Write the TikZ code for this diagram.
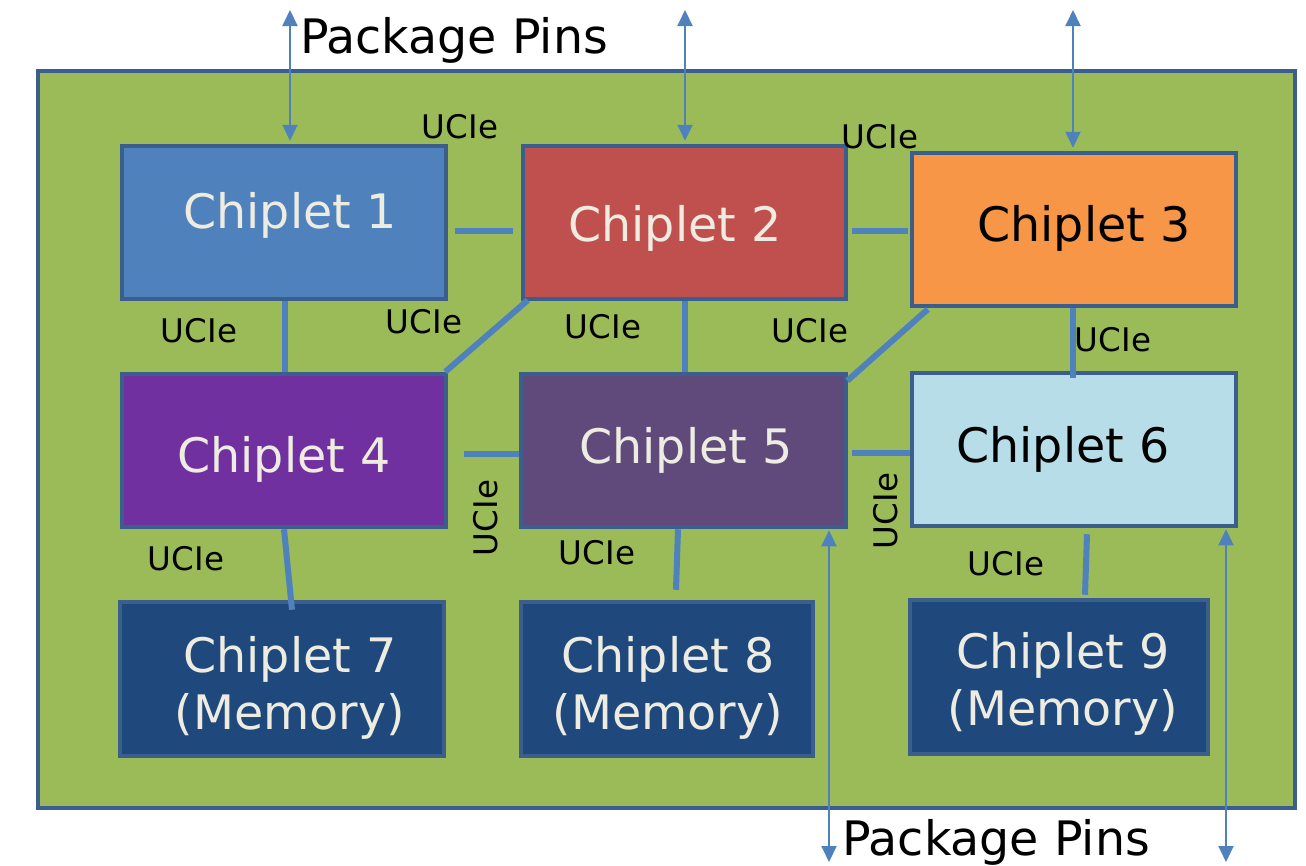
\documentclass[tikz,border=0pt]{standalone}
\usepackage{fontspec}
\setmainfont{DejaVu Sans}
\usetikzlibrary{arrows.meta,calc}

\definecolor{board}{HTML}{9BBB59}
\definecolor{rim}{HTML}{3B5E8C}
\definecolor{link}{HTML}{4F81BD}
\definecolor{chipA}{HTML}{4F81BD}
\definecolor{chipB}{HTML}{C0504D}
\definecolor{chipC}{HTML}{F79646}
\definecolor{chipD}{HTML}{7030A0}
\definecolor{chipE}{HTML}{604A7B}
\definecolor{chipF}{HTML}{B7DEE8}
\definecolor{chipM}{HTML}{1F497D}
\definecolor{paper}{HTML}{EEECE1}

\begin{document}
\begin{tikzpicture}[x=1pt,y=-1pt,
  chip/.style={draw=rim, line width=4.5pt, rectangle, inner sep=0pt,
               minimum height=153pt},
  chiptext/.style={font=\fontsize{47.5}{57}\selectfont, text=paper, inner sep=0pt},
  memtext/.style={chiptext, align=center},
  ucie/.style={font=\fontsize{32.5}{38}\selectfont, text=black, inner sep=0pt},
  pins/.style={font=\fontsize{47.5}{56}\selectfont, text=black, inner sep=0pt, anchor=base west},
  conn/.style={draw=link, line width=6pt},
  pinarrow/.style={draw=link, line width=2pt,
                   {Triangle[length=16pt,width=15pt]}-{Triangle[length=16pt,width=15pt]}}
]
\useasboundingbox (0,0) rectangle (1306,865);

% package substrate
\node[draw=rim, fill=board, line width=4.5pt, rectangle, inner sep=0pt,
      minimum width=1257pt, minimum height=737pt] (pkg) at (666.5,439.5) {};

% chiplets
\node[chip, fill=chipA, minimum width=324pt] (c1) at (284,222.5) {};
\node[chip, fill=chipB, minimum width=323pt] (c2) at (684.5,222.5) {};
\node[chip, fill=chipC, minimum width=324pt] (c3) at (1074,229.5) {};
\node[chip, fill=chipD, minimum width=324pt] (c4) at (284,450.5) {};
\node[chip, fill=chipE, minimum width=325pt] (c5) at (683.5,450.5) {};
\node[chip, fill=chipF, minimum width=324pt] (c6) at (1074,449.5) {};
\node[chip, fill=chipM, minimum width=324pt, minimum height=154pt] (c7) at (282,679) {};
\node[chip, fill=chipM, minimum width=292pt, minimum height=154pt] (c8) at (667,679) {};
\node[chip, fill=chipM, minimum width=298pt, minimum height=154pt] (c9) at (1059,677) {};

% chiplet names
\node[chiptext, anchor=base] (t1) at (290,228) {Chiplet 1};
\node[chiptext, anchor=base] (t2) at (675,241) {Chiplet 2};
\node[chiptext, anchor=base, text=black] (t3) at (1084,241) {Chiplet 3};
\node[chiptext, anchor=base] (t4) at (284,472) {Chiplet 4};
\node[chiptext, anchor=base] (t5) at (686,463) {Chiplet 5};
\node[chiptext, anchor=base, text=black] (t6) at (1063,462) {Chiplet 6};
\node[memtext] (t7) at (290,688) {Chiplet 7\\(Memory)};
\node[memtext] (t8) at (668,688) {Chiplet 8\\(Memory)};
\node[memtext] (t9) at (1063,684) {Chiplet 9\\(Memory)};

% UCIe links between chiplets
\draw[conn] ($(c1.east)+(7,8.5)$) -- ($(c2.west)+(-8,8.5)$);
\draw[conn] ($(c2.east)+(4,8.5)$) -- ($(c3.west)+(-2,1.5)$);
\draw[conn] ($(c1.south)+(1,0)$) -- ($(c4.north)+(1,0)$);
\draw[conn] ($(c2.south west)+(7,-1)$) -- ($(c4.north east)+(-3,0)$);
\draw[conn] ($(c2.south)+(0.5,0)$) -- ($(c5.north)+(1.5,0)$);
\draw[conn] ($(c3.south west)+(18,1)$) -- ($(c5.north east)+(-1,9)$);
\draw[conn] ($(c3.south)+(-1,0)$) -- ($(c6.north)+(-1,7)$);
\draw[conn] ($(c4.east)+(16,3.5)$) -- ($(c5.west)+(0,3.5)$);
\draw[conn] ($(c5.east)+(4,2.5)$) -- ($(c6.west)+(0,3.5)$);
\draw[conn] (c4.south) -- ($(c7.north)+(10,10)$);
\draw[conn] ($(c5.south)+(-5.5,0)$) -- ($(c8.north)+(9,-10)$);
\draw[conn] ($(c6.south)+(13,6)$) -- ($(c9.north)+(26,-3)$);

% link labels
\node[ucie] (u12) at (460,127) {UCIe};
\node[ucie] (u23) at (880,137) {UCIe};
\node[ucie] (u14) at (199,331) {UCIe};
\node[ucie] (u24) at (424,322) {UCIe};
\node[ucie] (u25) at (603,327) {UCIe};
\node[ucie] (u35) at (810,331) {UCIe};
\node[ucie] (u36) at (1113,340) {UCIe};
\node[ucie] (u47) at (186,559) {UCIe};
\node[ucie, rotate=90] (u45) at (486,518) {UCIe};
\node[ucie] (u58) at (597,553) {UCIe};
\node[ucie, rotate=90] (u56) at (886,511) {UCIe};
\node[ucie] (u69) at (1006,564) {UCIe};

% package pins
\coordinate (p1) at (290,10);
\coordinate (p2) at (685,10);
\coordinate (p3) at (1073,10);
\coordinate (p5) at (829,862);
\coordinate (p6) at (1226,862);
\draw[pinarrow] (p1) -- ($(c1.north)+(6,-3)$);
\draw[pinarrow] (p2) -- ($(c2.north)+(0.5,-3)$);
\draw[pinarrow] (p3) -- ($(c3.north)+(-1,-3)$);
\draw[pinarrow] ($(c5.south)+(145.5,1)$) -- (p5);
\draw[pinarrow] ($(c6.south)+(152,1)$) -- (p6);

\node[pins] (pinsTop) at (300,53) {Package Pins};
\node[pins] (pinsBot) at (842,855) {Package Pins};
\end{tikzpicture}
\end{document}
